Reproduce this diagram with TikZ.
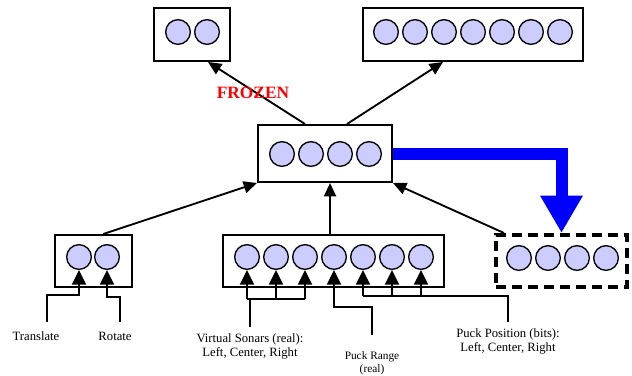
\documentclass[tikz,border=0pt]{standalone}
\usepackage{fontspec}
\setmainfont{Liberation Serif}
\usetikzlibrary{arrows.meta}

\begin{document}
\begin{tikzpicture}[x=0.75pt,y=-0.75pt,
  layer/.style={draw, line width=1.5pt, minimum height=39pt, inner sep=0pt},
  unit/.style={circle, draw, fill=blue!20, line width=1pt, minimum size=18.5pt, inner sep=0pt},
  link/.style={line width=1.4pt, -{Triangle[length=10pt,width=9pt]}},
  wire/.style={line width=1.4pt},
  feed/.style={wire, -{Triangle[length=11pt,width=10.5pt]}},
  lbl/.style={font=\fontsize{9.5}{10.5}\selectfont, align=center, inner sep=0pt},
  copy/.style={draw=blue, line width=9pt, -{Triangle[length=28pt,width=30pt]}}]
  \useasboundingbox (0,0) rectangle (632,375);

  \node[layer, minimum width=57pt, minimum height=39.75pt] (outA) at (192,34.5) {};
  \node[layer, minimum width=165pt, minimum height=39.75pt] (outB) at (473,34.5) {};
  \node[layer, minimum width=100.5pt, minimum height=42.75pt] (hid) at (325,153.5) {};
  \node[layer, minimum width=57.75pt] (inA) at (93.5,261) {};
  \node[layer, minimum width=165.75pt] (inB) at (333.5,261) {};
  \node[layer, minimum width=98.25pt, line width=3pt, dash pattern=on 7.5pt off 4.5pt] (ctx) at (561.5,261) {};

  \foreach \i in {1,2} \node[unit] (p\i) at ({149+29*\i},32) {};
  \foreach \i in {1,...,7} \node[unit] (o\i) at ({357+29*\i},32) {};
  \foreach \i in {1,...,4} \node[unit] (h\i) at ({253+29*\i},154) {};
  \foreach \i in {1,2} \node[unit] (a\i) at ({51+28*\i},257) {};
  \foreach \i in {1,...,7} \node[unit] (b\i) at ({218+29*\i},257) {};
  \foreach \i in {1,...,4} \node[unit] (c\i) at ({490+29*\i},258) {};

  \draw[link] ([xshift=-15pt]hid.north) -- ([xshift=12pt]outA.south);
  \draw[link] ([xshift=16.5pt]hid.north) -- ([xshift=-22.5pt]outB.south);
  \draw[link] (inA.70) -- (hid.south west);
  \draw[link] ([xshift=-2.6pt]inB.north) -- ([xshift=-2.6pt]inB.north |- hid.south);
  \draw[link] ([xshift=7.5pt]ctx.north west) -- (hid.south east);
  \draw[copy] (hid.east) -| (ctx.north);

  \node[text=red, font=\fontsize{13}{15}\selectfont\bfseries] (frz) at (253,93) {FROZEN};

  \coordinate (tr) at (47,322);
  \coordinate (ro) at (120,322);
  \coordinate (vs) at (250,327);
  \coordinate (pr) at (372,335);
  \coordinate (pp) at (508,322);

  \draw[feed] (tr) -- ++(0,-27) -| (a1.south);
  \draw[feed] (ro) -- ++(0,-25) -| (a2.south);
  \draw[wire] (vs) -- ++(0,-28) coordinate (vsj);
  \draw[wire] (b1.south |- vsj) -- (b3.south |- vsj);
  \foreach \i in {1,2,3} \draw[feed] (b\i.south |- vsj) -- (b\i.south);
  \draw[feed] (pr) -- ++(0,-28) -| (b4.south);
  \draw[wire] (pp) -- ++(0,-26) coordinate (ppj) -- (b5.south |- ppj);
  \foreach \i in {5,6,7} \draw[feed] (b\i.south |- ppj) -- (b\i.south);

  \node[lbl] (trl) at (36,336) {Translate};
  \node[lbl] (rol) at (115,336) {Rotate};
  \node[lbl] (vsl) at (250,346) {Virtual Sonars (real):\\Left, Center, Right};
  \node[lbl, font=\fontsize{8.5}{9.75}\selectfont] (prl) at (372,363.5) {Puck Range\\(real)};
  \node[lbl] (ppl) at (508,341) {Puck Position (bits):\\Left, Center, Right};
\end{tikzpicture}
\end{document}
